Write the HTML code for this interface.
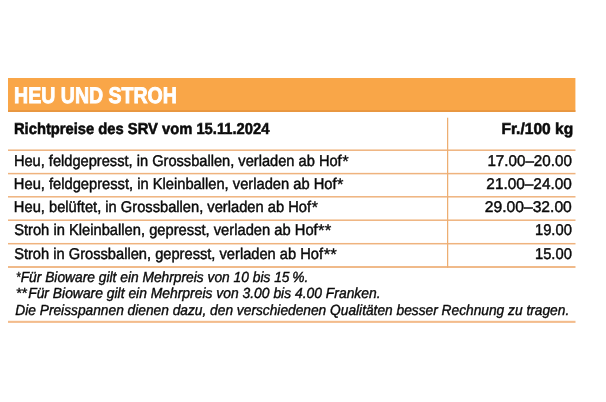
<!DOCTYPE html>
<html lang="de"><head><meta charset="utf-8"><title>Heu und Stroh</title>
<style>
html,body{margin:0;padding:0;background:#fff;}
body{width:606px;height:402px;overflow:hidden;}
svg{display:block;font-family:"Liberation Sans",Arial,Helvetica,sans-serif;}
text{white-space:pre;text-rendering:geometricPrecision;}
</style></head><body>
<svg width="606" height="402" viewBox="0 0 606 402">
<rect x="8" y="78" width="567.4" height="33.9" fill="#F9A648"/>
<rect x="8" y="110.2" width="567.4" height="1.7" fill="#E6953F"/>
<rect x="8" y="149.45" width="567.5" height="1.5" fill="#EFB37E"/>
<rect x="8" y="172.85" width="567.5" height="1.5" fill="#EFB37E"/>
<rect x="8" y="196.05" width="567.5" height="1.5" fill="#EFB37E"/>
<rect x="8" y="219.45" width="567.5" height="1.5" fill="#EFB37E"/>
<rect x="8" y="242.95" width="567.5" height="1.5" fill="#EFB37E"/>
<rect x="8" y="266.10" width="567.5" height="1.8" fill="#EFB37E"/>
<rect x="8" y="320.8" width="567.5" height="2.1" fill="#F3BC8C"/>
<rect x="447" y="117.7" width="1.25" height="150" fill="#EDAE72"/>
<text><tspan x="14.12" y="103.0" font-size="22.6" font-weight="bold" font-style="normal" fill="#fff" stroke="#fff" stroke-width="0.9" textLength="162.79" lengthAdjust="spacingAndGlyphs">HEU UND STROH</tspan></text>
<text><tspan x="13.95" y="134.0" font-size="15.8" font-weight="bold" font-style="normal" fill="#0b0b0b" stroke="#0b0b0b" stroke-width="0.55" textLength="255.46" lengthAdjust="spacingAndGlyphs">Richtpreise des SRV vom 15.11.2024</tspan></text>
<text><tspan x="501.41" y="134.0" font-size="15.8" font-weight="bold" font-style="normal" fill="#0b0b0b" stroke="#0b0b0b" stroke-width="0.55" textLength="71.73" lengthAdjust="spacingAndGlyphs">Fr./100 kg</tspan></text>
<text><tspan x="13.89" y="166.0" font-size="15.6" font-weight="normal" font-style="normal" fill="#0b0b0b" stroke="#0b0b0b" stroke-width="0.45" textLength="327.79" lengthAdjust="spacingAndGlyphs">Heu, feldgepresst, in Grossballen, verladen ab Hof</tspan><tspan x="342.22" y="167.0" font-size="16.8" font-weight="normal" font-style="normal" fill="#0b0b0b" stroke="#0b0b0b" stroke-width="0.35" textLength="6.42" lengthAdjust="spacingAndGlyphs">*</tspan></text>
<text><tspan x="13.87" y="189.0" font-size="15.6" font-weight="normal" font-style="normal" fill="#0b0b0b" stroke="#0b0b0b" stroke-width="0.45" textLength="322.68" lengthAdjust="spacingAndGlyphs">Heu, feldgepresst, in Kleinballen, verladen ab Hof</tspan><tspan x="337.12" y="190.0" font-size="16.8" font-weight="normal" font-style="normal" fill="#0b0b0b" stroke="#0b0b0b" stroke-width="0.35" textLength="6.43" lengthAdjust="spacingAndGlyphs">*</tspan></text>
<text><tspan x="13.87" y="212.0" font-size="15.6" font-weight="normal" font-style="normal" fill="#0b0b0b" stroke="#0b0b0b" stroke-width="0.45" textLength="297.18" lengthAdjust="spacingAndGlyphs">Heu, belüftet, in Grossballen, verladen ab Hof</tspan><tspan x="311.71" y="213.0" font-size="16.8" font-weight="normal" font-style="normal" fill="#0b0b0b" stroke="#0b0b0b" stroke-width="0.35" textLength="6.21" lengthAdjust="spacingAndGlyphs">*</tspan></text>
<text><tspan x="14.13" y="235.0" font-size="15.6" font-weight="normal" font-style="normal" fill="#0b0b0b" stroke="#0b0b0b" stroke-width="0.45" textLength="303.55" lengthAdjust="spacingAndGlyphs">Stroh in Kleinballen, gepresst, verladen ab Hof</tspan><tspan x="318.12" y="236.0" font-size="16.8" font-weight="normal" font-style="normal" fill="#0b0b0b" stroke="#0b0b0b" stroke-width="0.35" textLength="13.14" lengthAdjust="spacingAndGlyphs">**</tspan></text>
<text><tspan x="14.13" y="259.0" font-size="15.6" font-weight="normal" font-style="normal" fill="#0b0b0b" stroke="#0b0b0b" stroke-width="0.45" textLength="308.92" lengthAdjust="spacingAndGlyphs">Stroh in Grossballen, gepresst, verladen ab Hof</tspan><tspan x="323.66" y="260.0" font-size="16.8" font-weight="normal" font-style="normal" fill="#0b0b0b" stroke="#0b0b0b" stroke-width="0.35" textLength="13.02" lengthAdjust="spacingAndGlyphs">**</tspan></text>
<text><tspan x="487.39" y="166.0" font-size="15.6" font-weight="normal" font-style="normal" fill="#0b0b0b" stroke="#0b0b0b" stroke-width="0.45" textLength="84.45" lengthAdjust="spacingAndGlyphs">17.00–20.00</tspan></text>
<text><tspan x="486.35" y="189.0" font-size="15.6" font-weight="normal" font-style="normal" fill="#0b0b0b" stroke="#0b0b0b" stroke-width="0.45" textLength="85.47" lengthAdjust="spacingAndGlyphs">21.00–24.00</tspan></text>
<text><tspan x="484.85" y="212.0" font-size="15.6" font-weight="normal" font-style="normal" fill="#0b0b0b" stroke="#0b0b0b" stroke-width="0.45" textLength="86.97" lengthAdjust="spacingAndGlyphs">29.00–32.00</tspan></text>
<text><tspan x="534.93" y="235.0" font-size="15.6" font-weight="normal" font-style="normal" fill="#0b0b0b" stroke="#0b0b0b" stroke-width="0.45" textLength="36.94" lengthAdjust="spacingAndGlyphs">19.00</tspan></text>
<text><tspan x="534.93" y="259.0" font-size="15.6" font-weight="normal" font-style="normal" fill="#0b0b0b" stroke="#0b0b0b" stroke-width="0.45" textLength="36.94" lengthAdjust="spacingAndGlyphs">15.00</tspan></text>
<text><tspan x="16.12" y="282.0" font-size="14.5" font-weight="normal" font-style="italic" fill="#0b0b0b" stroke="#0b0b0b" stroke-width="0.35" textLength="4.52" lengthAdjust="spacingAndGlyphs">*</tspan><tspan x="20.66" y="282.0" font-size="14.7" font-weight="normal" font-style="italic" fill="#0b0b0b" stroke="#0b0b0b" stroke-width="0.4" textLength="287.69" lengthAdjust="spacingAndGlyphs">Für Bioware gilt ein Mehrpreis von 10 bis 15 %.</tspan></text>
<text><tspan x="15.70" y="298.0" font-size="14.5" font-weight="normal" font-style="italic" fill="#0b0b0b" stroke="#0b0b0b" stroke-width="0.35" textLength="11.14" lengthAdjust="spacingAndGlyphs">**</tspan><tspan x="28.16" y="298.0" font-size="14.7" font-weight="normal" font-style="italic" fill="#0b0b0b" stroke="#0b0b0b" stroke-width="0.4" textLength="352.43" lengthAdjust="spacingAndGlyphs">Für Bioware gilt ein Mehrpreis von 3.00 bis 4.00 Franken.</tspan></text>
<text><tspan x="15.30" y="314.5" font-size="14.7" font-weight="normal" font-style="italic" fill="#0b0b0b" stroke="#0b0b0b" stroke-width="0.4" textLength="553.91" lengthAdjust="spacingAndGlyphs">Die Preisspannen dienen dazu, den verschiedenen Qualitäten besser Rechnung zu tragen.</tspan></text>
</svg>
</body></html>
